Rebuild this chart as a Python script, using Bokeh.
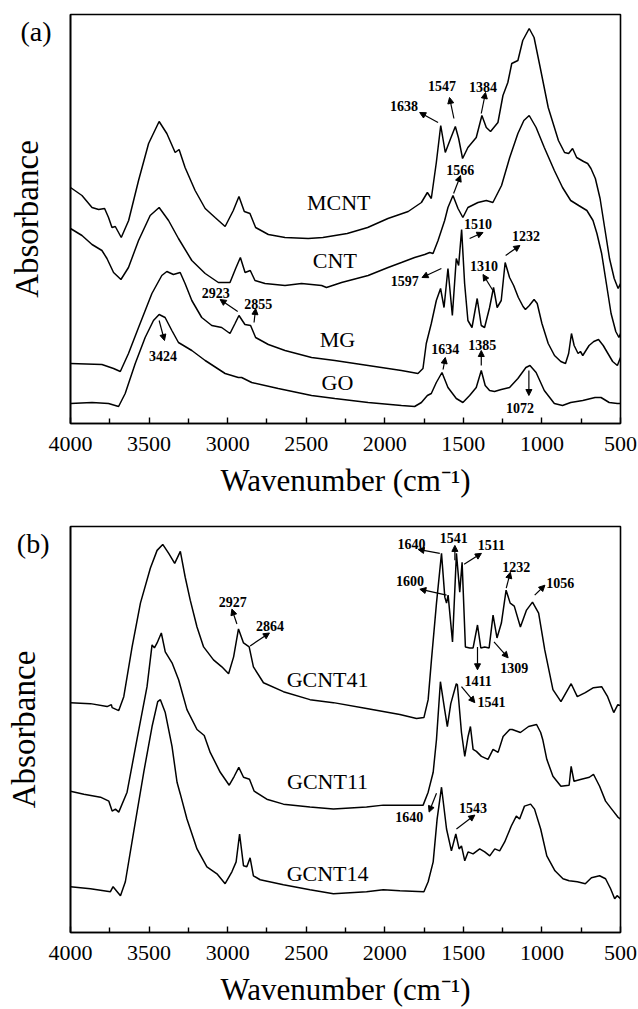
from bokeh.plotting import figure
from bokeh.layouts import column
from bokeh.models import Range1d, FixedTicker, Arrow, NormalHead, ColumnDataSource
from bokeh.embed import file_html
from bokeh.resources import INLINE
from bokeh.core.properties import value

# ---------------- data (wavenumber cm-1, absorbance in arbitrary offset units) -------------
mcnt_wn = [4000, 3927, 3863, 3821, 3783, 3758, 3736, 3715, 3677, 3630, 3567, 3503, 3436, 3387, 3334, 3309,
           3271, 3207, 3143, 3080, 3016, 2964, 2928, 2894, 2858, 2822, 2741, 2635, 2487, 2394, 2239, 2109,
           1980, 1851, 1767, 1729, 1704, 1672, 1644, 1615, 1581, 1551, 1530, 1505, 1471, 1418, 1382, 1354,
           1327, 1280, 1248, 1217, 1192, 1153, 1122, 1081, 1050, 1011, 960, 895, 856, 830, 805, 779, 735,
           709, 688, 660, 630, 600, 570, 540, 515, 500]
mcnt_ab = [236, 228, 216, 214, 215, 206, 196, 197, 186, 203, 243, 280, 302, 290, 271, 274,
           256, 233, 215, 206, 197, 213, 227, 212, 210, 196, 189, 186, 185, 186, 190, 196,
           205, 212, 221, 231, 225, 261, 298, 271, 285, 297, 285, 265, 276, 286, 308, 296,
           292, 301, 328, 341, 360, 363, 383, 395, 386, 356, 316, 283, 271, 270, 275, 266, 262,
           260, 255, 245, 225, 195, 165, 145, 135, 140]

cnt_wn = [4000, 3927, 3863, 3800, 3768, 3726, 3679, 3631, 3567, 3493, 3436, 3376, 3313, 3228, 3143, 3059,
          2985, 2949, 2919, 2889, 2856, 2826, 2762, 2635, 2530, 2402, 2371, 2275, 2106, 1979, 1894, 1810,
          1746, 1714, 1693, 1661, 1619, 1598, 1566, 1534, 1503, 1471, 1407, 1354, 1312, 1257, 1205, 1153,
          1115, 1081, 1037, 985, 921, 869, 817, 766, 714, 675, 650, 620, 590, 560, 530, 510, 500]
cnt_ab = [195, 188, 179, 173, 165, 151, 144, 156, 183, 208, 216, 203, 185, 163, 150, 141,
          141, 155, 166, 151, 153, 143, 140, 138, 140, 138, 136, 141, 148, 156, 161, 166,
          169, 171, 170, 183, 203, 216, 228, 215, 206, 216, 221, 223, 221, 238, 266, 290,
          303, 308, 296, 276, 253, 236, 223, 218, 213, 203, 190, 170, 140, 110, 92, 86, 90]

mg_wn = [4000, 3800, 3726, 3683, 3631, 3567, 3482, 3419, 3387, 3345, 3302, 3271, 3228, 3165, 3101, 3038,
         2985, 2953, 2928, 2890, 2854, 2822, 2741, 2635, 2466, 2318, 2106, 1894, 1789, 1757, 1736, 1704,
         1672, 1645, 1623, 1598, 1570, 1545, 1530, 1511, 1492, 1471, 1445, 1412, 1386, 1365, 1333, 1308,
         1285, 1259, 1234, 1206, 1180, 1150, 1120, 1105, 1080, 1050, 1030, 1000, 960, 920, 880, 850, 830,
         812, 795, 770, 755, 740, 700, 670, 640, 610, 580, 550, 520, 510, 500]
mg_ab = [60, 59, 55, 52, 70, 96, 130, 148, 152, 149, 151, 140, 123, 106, 98, 96,
         90, 100, 108, 99, 98, 86, 79, 73, 66, 63, 58, 53, 50, 55, 80, 100,
         123, 135, 116, 155, 108, 165, 158, 194, 140, 103, 96, 125, 98, 96, 116, 136,
         116, 123, 161, 146, 138, 126, 117, 114, 118, 124, 120, 100, 80, 68, 62, 60, 70,
         90, 78, 70, 72, 68, 78, 82, 84, 78, 70, 62, 58, 62, 66]

go_wn = [4000, 3863, 3758, 3694, 3652, 3588, 3525, 3472, 3436, 3398, 3355, 3313, 3228, 3143, 3016, 2932,
         2911, 2847, 2678, 2466, 2318, 2106, 1894, 1810, 1767, 1729, 1704, 1672, 1636, 1598, 1545, 1503,
         1460, 1418, 1386, 1361, 1333, 1302, 1259, 1206, 1153, 1102, 1076, 1037, 985, 921, 869, 817, 740,
         662, 624, 572, 520, 500]
go_ab = [20, 21, 20, 17, 30, 60, 86, 103, 109, 106, 93, 81, 73, 63, 50, 46,
         46, 41, 35, 28, 25, 21, 18, 17, 21, 28, 30, 41, 51, 36, 25, 21,
         28, 36, 53, 38, 33, 32, 34, 36, 45, 56, 58, 51, 33, 20, 18, 21, 23,
         26, 26, 21, 20, 20]

g41_wn = [4000, 3873, 3767, 3740, 3735, 3693, 3661, 3608, 3555, 3492, 3449, 3413, 3375, 3337, 3301, 3270,
          3238, 3195, 3153, 3090, 3037, 2994, 2962, 2931, 2899, 2863, 2836, 2772, 2645, 2476, 2327, 2116,
          1904, 1798, 1751, 1724, 1703, 1671, 1639, 1618, 1607, 1597, 1569, 1544, 1523, 1508, 1487, 1459,
          1438, 1410, 1389, 1364, 1336, 1311, 1286, 1258, 1228, 1202, 1176, 1137, 1098, 1060, 1021, 982,
          930, 879, 814, 775, 724, 672, 620, 582, 543, 517, 500]
g41_ab = [231, 230, 227, 229, 226, 223, 237, 287, 331, 366, 384, 390, 381, 371, 383, 357,
          334, 307, 287, 274, 267, 260, 277, 305, 291, 287, 267, 251, 242, 234, 231, 225,
          219, 215, 216, 234, 274, 331, 381, 337, 331, 339, 292, 381, 342, 372, 287, 286,
          286, 309, 286, 287, 286, 319, 296, 311, 344, 331, 328, 307, 324, 332, 321, 284,
          244, 232, 250, 237, 241, 246, 247, 237, 221, 229, 228]

g11_wn = [4000, 3915, 3809, 3756, 3735, 3714, 3693, 3640, 3577, 3513, 3481, 3466, 3449, 3422, 3397, 3354,
          3312, 3259, 3195, 3149, 3111, 3047, 2990, 2958, 2929, 2899, 2861, 2831, 2751, 2645, 2476, 2327,
          2116, 2010, 1904, 1756, 1724, 1692, 1671, 1646, 1620, 1602, 1580, 1545, 1538, 1512, 1491, 1470,
          1455, 1438, 1417, 1385, 1343, 1311, 1279, 1247, 1205, 1189, 1137, 1085, 1034, 1008, 995, 969,
          930, 879, 827, 814, 796, 749, 698, 672, 633, 595, 556, 517, 500]
g11_ab = [142, 139, 136, 132, 122, 124, 121, 141, 194, 247, 289, 286, 291, 301, 282, 271,
          254, 224, 204, 198, 181, 161, 148, 157, 166, 156, 154, 142, 134, 129, 126, 124,
          126, 128, 128, 128, 141, 161, 194, 252, 225, 207, 230, 250, 249, 201, 177, 197,
          207, 184, 182, 177, 174, 184, 181, 197, 204, 204, 201, 207, 209, 201, 194, 174,
          157, 147, 148, 167, 152, 154, 156, 159, 147, 132, 124, 116, 114]

g14_wn = [4000, 3873, 3746, 3729, 3682, 3651, 3598, 3534, 3481, 3445, 3428, 3397, 3354, 3322, 3301, 3259,
          3195, 3132, 3068, 3016, 2973, 2946, 2924, 2899, 2878, 2857, 2836, 2793, 2645, 2476, 2327, 2116,
          2010, 1904, 1751, 1724, 1692, 1667, 1639, 1607, 1576, 1548, 1527, 1512, 1491, 1470, 1438, 1396,
          1364, 1332, 1300, 1269, 1237, 1195, 1163, 1142, 1111, 1072, 1047, 1008, 969, 917, 866, 827, 775,
          724, 685, 633, 595, 563, 537, 522, 500]
g14_ab = [46, 44, 41, 46, 37, 51, 101, 161, 207, 232, 234, 221, 187, 151, 139, 114,
          84, 66, 59, 49, 61, 71, 99, 67, 66, 75, 57, 53, 48, 43, 39, 41,
          43, 42, 41, 51, 71, 114, 146, 104, 82, 99, 84, 87, 72, 81, 79, 84,
          81, 77, 84, 82, 91, 107, 117, 114, 127, 129, 124, 104, 77, 62, 54, 52, 51,
          49, 55, 57, 54, 44, 34, 37, 34]

x_ticks = [4000, 3500, 3000, 2500, 2000, 1500, 1000, 500]
x_minor = [3750, 3250, 2750, 2250, 1750, 1250, 750]

# peak annotations: text, label position, arrow tail, arrow head (data units)
a_peak_text = ["1638", "1547", "1384", "1566", "1510", "1232", "1597", "1310", "2923", "2855", "3424", "1634", "1385", "1072"]
a_peak_x = [1877, 1636, 1375, 1520, 1407, 1102, 1873, 1369, 3076, 2805, 3412, 1615, 1380, 1140]
a_peak_y = [318, 338, 337, 254, 200, 188, 143, 158, 131, 120, 68, 75, 79, 16]
a_arr_x0 = [1661, 1560, 1386, 1562, 1460, 1231, 1640, 1312, 2936, 2832, 3436, 1629, 1386, 1083]
a_arr_y0 = [301, 305, 310, 230, 185, 168, 155, 133, 112, 101, 103, 54, 58, 53]
a_arr_x1 = [1778, 1588, 1359, 1518, 1375, 1140, 1763, 1375, 3048, 2822, 3402, 1615, 1386, 1083]
a_arr_y1 = [311, 326, 331, 248, 191, 178, 146, 149, 124, 115, 83, 66, 73, 28]

b_peak_text = ["2927", "2864", "1640", "1541", "1511", "1600", "1232", "1056", "1411", "1309", "1541", "1640", "1543"]
b_peak_x = [2967, 2730, 1830, 1561, 1321, 1840, 1163, 884, 1406, 1176, 1321, 1845, 1438]
b_peak_y = [332, 308, 390, 396, 389, 353, 367, 351, 253, 266, 232, 116, 125]
b_arr_x0 = [2941, 2857, 1650, 1554, 1495, 1607, 1227, 1046, 1410, 1305, 1512, 1671, 1544]
b_arr_y0 = [310, 288, 381, 374, 370, 339, 346, 339, 287, 292, 247, 140, 104]
b_arr_x1 = [2973, 2734, 1788, 1554, 1385, 1777, 1201, 981, 1410, 1215, 1427, 1718, 1427]
b_arr_y1 = [325, 301, 385, 389, 381, 345, 362, 349, 264, 276, 231, 121, 118]

a_names = ["MCNT", "CNT", "MG", "GO"]
a_name_x = [2293, 2318, 2301, 2301]
a_name_y = [221, 163, 84, 41]
b_names = ["GCNT41", "GCNT11", "GCNT14"]
b_name_x = [2364, 2364, 2364]
b_name_y = [254, 152, 59]

FONT = "Liberation Serif"


def make_panel(tag, tag_y, series, names, name_x, name_y, ptxt, px, py, ax0, ay0, ax1, ay1,
               height, top, bottom, left, right, ymax):
    p = figure(width=638, height=height, output_backend="svg", toolbar_location=None,
               x_range=Range1d(4000, 500), y_range=Range1d(0, ymax),
               min_border_left=left, min_border_right=right, min_border_top=top,
               min_border_bottom=bottom)
    p.xgrid.visible = False
    p.ygrid.visible = False
    p.outline_line_color = "black"
    p.outline_line_width = 1.6
    p.background_fill_color = "white"
    p.border_fill_color = "white"

    xa = p.xaxis[0]
    xa.ticker = FixedTicker(ticks=x_ticks, minor_ticks=x_minor)
    xa.major_tick_in = 6
    xa.major_tick_out = 0
    xa.minor_tick_in = 5
    xa.minor_tick_out = 0
    xa.major_tick_line_width = 1.4
    xa.minor_tick_line_width = 1.4
    xa.axis_line_width = 1.6
    xa.major_label_text_font = FONT
    xa.major_label_text_font_size = "22px"
    xa.major_label_text_color = "black"
    xa.major_label_standoff = 13
    xa.axis_label = "Wavenumber (cm\u207b\u00b9)"
    xa.axis_label_text_font = FONT
    xa.axis_label_text_font_size = "31px"
    xa.axis_label_text_font_style = "normal"
    xa.axis_label_text_color = "black"
    xa.axis_label_standoff = 9

    # left axis: no ticks; its single tick label carries the panel tag "(a)"/"(b)"
    ya = p.yaxis[0]
    ya.ticker = FixedTicker(ticks=[tag_y])
    ya.major_label_overrides = {tag_y: tag}
    ya.major_label_text_font = FONT
    ya.major_label_text_font_size = "28px"
    ya.major_label_text_color = "black"
    ya.major_label_standoff = left - 49
    ya.major_tick_line_color = None
    ya.major_tick_in = 0
    ya.major_tick_out = 0
    ya.minor_tick_line_color = None
    ya.axis_line_width = 1.6
    ya.axis_label = "Absorbance"
    ya.axis_label_text_font = FONT
    ya.axis_label_text_font_size = "33px"
    ya.axis_label_text_font_style = "normal"
    ya.axis_label_text_color = "black"
    ya.axis_label_standoff = -28

    for wn, ab in series:
        p.line(wn, ab, line_color="black", line_width=1.5)

    src_n = ColumnDataSource(dict(x=name_x, y=name_y, t=names))
    p.text(x="x", y="y", text="t", source=src_n, text_font=value(FONT), text_font_size="22px",
           text_align="center", text_baseline="middle", text_color="black")

    src_p = ColumnDataSource(dict(x=px, y=py, t=ptxt))
    p.text(x="x", y="y", text="t", source=src_p, text_font=value(FONT), text_font_size="14px",
           text_font_style="bold", text_align="center", text_baseline="middle", text_color="black")

    src_a = ColumnDataSource(dict(x0=ax0, y0=ay0, x1=ax1, y1=ay1))
    p.add_layout(Arrow(end=NormalHead(size=6, line_color="black", fill_color="black", line_width=1),
                       x_start="x0", y_start="y0", x_end="x1", y_end="y1", source=src_a,
                       line_color="black", line_width=1.2))
    return p


pa = make_panel("(a)", 392, [(mcnt_wn, mcnt_ab), (cnt_wn, cnt_ab), (mg_wn, mg_ab), (go_wn, go_ab)],
                a_names, a_name_x, a_name_y, a_peak_text, a_peak_x, a_peak_y,
                a_arr_x0, a_arr_y0, a_arr_x1, a_arr_y1,
                height=501, top=14, bottom=78, left=68, right=18, ymax=409)
pb = make_panel("(b)", 391, [(g41_wn, g41_ab), (g11_wn, g11_ab), (g14_wn, g14_ab)],
                b_names, b_name_x, b_name_y, b_peak_text, b_peak_x, b_peak_y,
                b_arr_x0, b_arr_y0, b_arr_x1, b_arr_y1,
                height=508, top=25, bottom=75, left=70, right=17, ymax=408)

layout = column(pa, pb, spacing=0)
open("out.html", "w").write(file_html(layout, INLINE))
